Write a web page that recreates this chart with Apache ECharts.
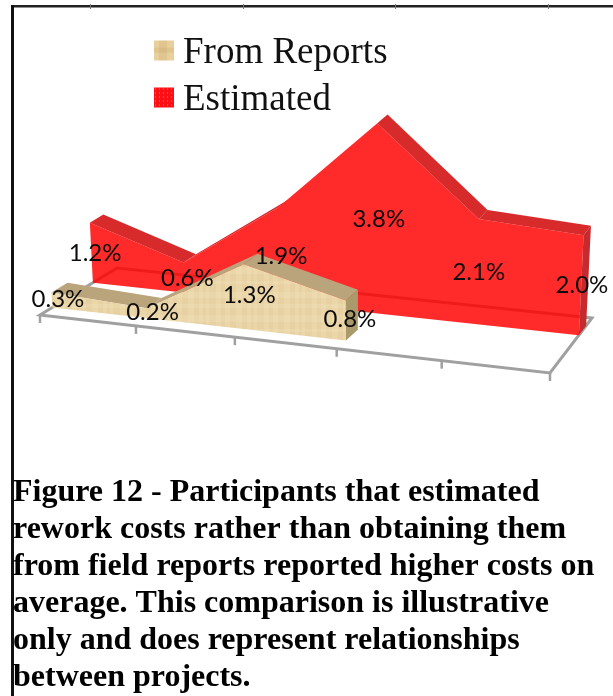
<!DOCTYPE html>
<html>
<head>
<meta charset="utf-8">
<style>html,body{margin:0;padding:0;background:#fff}#chart{width:613px;height:696px}</style>
<script src="https://cdn.jsdelivr.net/npm/echarts@6/dist/echarts.min.js"></script>
</head>
<body>
<div id="chart"></div>
<script>
// Rework cost share per project, by source of the figure
const points = [0, 1, 2, 3, 4, 5];
const fromReports = [0.3, 0.2, 1.3, 0.8];
const estimated = [1.2, 0.6, 1.9, 3.8, 2.1, 2.0];
const legendNames = ['From Reports', 'Estimated'];
const captionLines = [
  'Figure 12 - Participants that estimated',
  'rework costs rather than obtaining them',
  'from field reports reported higher costs on',
  'average. This comparison is illustrative',
  'only and does represent relationships',
  'between projects.'
];

// Floor of the 3D box on screen: front-left, front-right, back-right, back-left
const floorCorners = [[40, 315], [550, 373], [592, 318], [117, 268]];
const depthReports = [0.15, 0.35];
const depthEstimated = [0.67, 0.85];

function makeHomography(q) {
  const [[x0, y0], [x1, y1], [x2, y2], [x3, y3]] = q;
  const dx1 = x1 - x2, dx2 = x3 - x2, sx = x0 - x1 + x2 - x3;
  const dy1 = y1 - y2, dy2 = y3 - y2, sy = y0 - y1 + y2 - y3;
  const den = dx1 * dy2 - dx2 * dy1;
  const g = (sx * dy2 - dx2 * sy) / den, h = (dx1 * sy - sx * dy1) / den;
  const a = x1 - x0 + g * x1, b = x3 - x0 + h * x3;
  const d = y1 - y0 + g * y1, e = y3 - y0 + h * y3;
  return (u, v) => {
    const w = g * u + h * v + 1;
    return [(a * u + b * v + x0) / w, (d * u + e * v + y0) / w];
  };
}
const floorAt = makeHomography(floorCorners);

// Category and value go through the cartesian scales; the flat result is
// then laid onto the tilted floor at a given depth, with verticals leaning slightly.
function project(api, cat, value, depth) {
  const o = api.coord([0, 0]);
  const e = api.coord([points[points.length - 1], 0]);
  const p = api.coord([cat, value]);
  const u = (p[0] - o[0]) / (e[0] - o[0]);
  const rise = o[1] - p[1];
  const b = floorAt(u, depth);
  return [b[0] + (b[0] - 345) * 0.0002 * rise, b[1] - rise];
}

function patternCanvas(size, paint) {
  const c = document.createElement('canvas');
  c.width = c.height = size;
  paint(c.getContext('2d'));
  return { image: c, repeat: 'repeat' };
}
const woodFill = patternCanvas(48, ctx => {
  ctx.fillStyle = '#ebd6a9';
  ctx.fillRect(0, 0, 48, 48);
  ctx.fillStyle = 'rgba(200,165,105,0.10)';
  [[2, 5], [11, 3], [17, 7], [29, 4], [38, 6]].forEach(b => ctx.fillRect(b[0], 0, b[1], 48));
  ctx.fillStyle = 'rgba(255,244,215,0.13)';
  [[4, 6], [16, 4], [27, 7], [41, 3]].forEach(b => ctx.fillRect(0, b[0], 48, b[1]));
});
const reportsSwatch = patternCanvas(20, ctx => {
  ctx.fillStyle = '#e8d09d';
  ctx.fillRect(0, 0, 20, 20);
  ctx.fillStyle = 'rgba(190,150,85,0.18)';
  ctx.fillRect(5, 0, 8, 20);
  ctx.fillRect(0, 7, 20, 5);
});
const estimatedSwatch = patternCanvas(4, ctx => {
  ctx.fillStyle = '#fa0f14';
  ctx.fillRect(0, 0, 4, 4);
  ctx.fillStyle = 'rgba(255,170,170,0.8)';
  ctx.fillRect(1, 1, 1, 1);
});

function solidArea(values, depth, look) {
  return function (params, api) {
    if (params.dataIndex !== 0) return null;
    const [df, db] = depth;
    const last = values.length - 1;
    const front = values.map((v, i) => project(api, i, v, df));
    const back = values.map((v, i) => project(api, i, v, db));
    const children = [];
    // Upper faces, only where the slope turns them towards the viewer
    for (let i = 0; i < last; i++) {
      const ex = front[i + 1][0] - front[i][0], ey = front[i + 1][1] - front[i][1];
      const ox = back[i][0] - front[i][0], oy = back[i][1] - front[i][1];
      if (ex * oy - ey * ox < 0) {
        children.push({ type: 'polygon', silent: true,
          shape: { points: [front[i], front[i + 1], back[i + 1], back[i]] },
          style: { fill: look.top } });
      }
    }
    // End cap at the last category
    children.push({ type: 'polygon', silent: true,
      shape: { points: [project(api, last, 0, df), front[last], back[last], project(api, last, 0, db)] },
      style: { fill: look.side } });
    // Front face
    const outline = [project(api, 0, 0, df)].concat(front, [project(api, last, 0, df)]);
    children.push({ type: 'polygon', silent: true, shape: { points: outline }, style: { fill: look.front } });
    return { type: 'group', children };
  };
}

function valueLabels(values, depth, nudge) {
  return function (params, api) {
    const i = params.dataIndex;
    const mid = (depth[0] + depth[1]) / 2;
    const p = project(api, i, values[i] / 2, mid);
    return {
      type: 'text', silent: true,
      style: {
        x: p[0] + nudge[0], y: p[1] + nudge[1],
        text: values[i].toFixed(1) + '%',
        align: 'center', verticalAlign: 'middle',
        fill: '#0c0c0c', font: '24px Lato'
      }
    };
  };
}

function drawFloor(params, api) {
  if (params.dataIndex !== 0) return null;
  const grey = { stroke: '#a0a0a0', lineWidth: 3, fill: 'none' };
  const children = [{
    type: 'polygon', silent: true,
    shape: { points: [project(api, 0, 0, 0), project(api, 5, 0, 0), project(api, 5, 0, 1), project(api, 0, 0, 1)] },
    style: grey
  }];
  points.forEach(i => {
    const a = project(api, i, 0, 0);
    children.push({ type: 'line', silent: true,
      shape: { x1: a[0], y1: a[1], x2: a[0], y2: a[1] + 8 }, style: { stroke: '#a0a0a0', lineWidth: 2.5 } });
  });
  return { type: 'group', children };
}

const look = {
  reports: { front: woodFill, top: '#b9a47c', side: '#ab9a6c' },
  estimated: { front: 'rgba(255,0,0,0.83)', top: '#d62a2b', side: '#c52a2e' }
};

const frameNotches = [90, 243, 395, 548];

const chart = echarts.init(document.getElementById('chart'), null, { renderer: 'canvas' });
chart.setOption({
  animation: false,
  backgroundColor: '#ffffff',
  title: {
    text: captionLines.join('\n'),
    left: 13, top: 474, padding: 0,
    textStyle: { fontFamily: 'Liberation Serif', fontWeight: 'bold', fontSize: 32, lineHeight: 37, color: '#000' }
  },
  legend: {
    orient: 'vertical', left: 154, top: 29, padding: 0, itemGap: 4,
    itemWidth: 20, itemHeight: 20, selectedMode: false,
    formatter: '{t|{name}}',
    textStyle: {
      rich: { t: { fontFamily: 'Liberation Serif', fontSize: 37, color: '#111', lineHeight: 43, padding: [6, 0, 0, 4] } }
    },
    data: [
      { name: legendNames[0], icon: 'rect', itemStyle: { color: reportsSwatch } },
      { name: legendNames[1], icon: 'rect', itemStyle: { color: estimatedSwatch } }
    ]
  },
  grid: { left: 0, top: 100, width: 500, height: 200 },
  xAxis: { type: 'value', min: 0, max: 5, show: false },
  yAxis: { type: 'value', min: 0, max: 4, show: false },
  series: [
    { type: 'custom', name: 'floor', coordinateSystem: 'cartesian2d', clip: false, z: 1,
      data: points.map(i => [i, 0]), renderItem: drawFloor },
    { type: 'custom', name: legendNames[1], coordinateSystem: 'cartesian2d', clip: false, z: 2,
      data: estimated.map((v, i) => [i, v]), renderItem: solidArea(estimated, depthEstimated, look.estimated) },
    { type: 'custom', name: legendNames[0], coordinateSystem: 'cartesian2d', clip: false, z: 3,
      data: fromReports.map((v, i) => [i, v]), renderItem: solidArea(fromReports, depthReports, look.reports) },
    { type: 'custom', name: 'estimated labels', coordinateSystem: 'cartesian2d', clip: false, z: 4,
      data: estimated.map((v, i) => [i, v]), renderItem: valueLabels(estimated, depthEstimated, [-3, 5]) },
    { type: 'custom', name: 'report labels', coordinateSystem: 'cartesian2d', clip: false, z: 4,
      data: fromReports.map((v, i) => [i, v]), renderItem: valueLabels(fromReports, depthReports, [-2, 4]) }
  ],
  graphic: [
    { type: 'line', silent: true, shape: { x1: 11, y1: 6.3, x2: 613, y2: 6.3 }, style: { stroke: '#222', lineWidth: 2.5 } },
    { type: 'line', silent: true, shape: { x1: 12.5, y1: 5, x2: 12.5, y2: 696 }, style: { stroke: '#111', lineWidth: 3 } }
  ].concat(frameNotches.map(x => (
    { type: 'line', silent: true, shape: { x1: x + 0.5, y1: 4, x2: x + 0.5, y2: 9 }, style: { stroke: '#777', lineWidth: 1 } }
  )))
});
</script>
</body>
</html>
